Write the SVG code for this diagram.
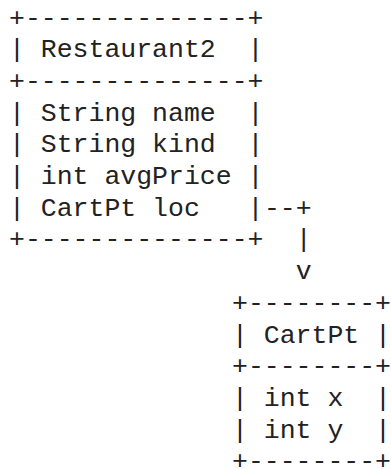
<svg xmlns="http://www.w3.org/2000/svg" width="391" height="470" viewBox="0 0 391 470">
<style>
text{font-family:"Liberation Mono","Courier New",monospace;font-size:26.5px;fill:#222;white-space:pre}
</style>
<rect width="391" height="470" fill="#fff"/>
<g id="restaurant2" xml:space="preserve">
<text x="9" y="25.5">+--------------+</text>
<text x="9" y="57.2">| Restaurant2  |</text>
<text x="9" y="88.9">+--------------+</text>
<text x="9" y="120.6">| String name  |</text>
<text x="9" y="152.3">| String kind  |</text>
<text x="9" y="184">| int avgPrice |</text>
<text x="9" y="215.7">| CartPt loc   |</text>
<text x="9" y="247.4">+--------------+</text>
</g>
<g id="connectors" xml:space="preserve">
<text x="263.9" y="215.7">--+</text>
<text x="295.7" y="247.4">|</text>
<text x="295.7" y="279.1">v</text>
</g>
<g id="cartpt" xml:space="preserve">
<text x="232" y="310.8">+--------+</text>
<text x="232" y="342.5">| CartPt |</text>
<text x="232" y="374.2">+--------+</text>
<text x="232" y="405.9">| int x  |</text>
<text x="232" y="437.6">| int y  |</text>
<text x="232" y="469.3">+--------+</text>
</g>
</svg>
